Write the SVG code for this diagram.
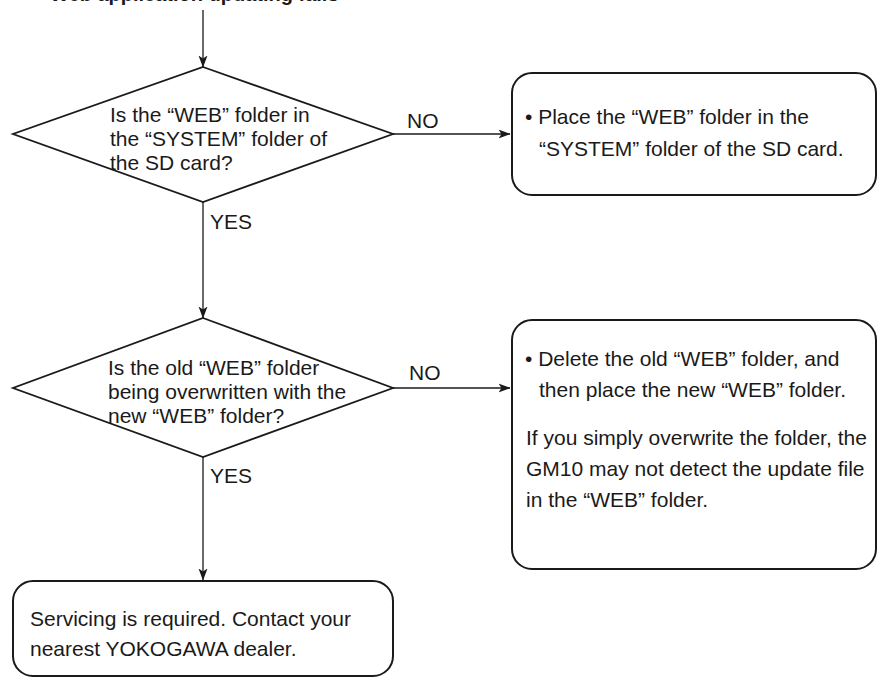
<svg xmlns="http://www.w3.org/2000/svg" width="878" height="677" viewBox="0 0 878 677">
<defs>
<style>
text{font-family:"Liberation Sans",Arial,sans-serif;font-size:21px;fill:#1a1a1a}
.title{font-weight:bold;font-size:20px}
.shape{fill:#fff;stroke:#1a1a1a;stroke-width:1.8}
.box{fill:#fff;stroke:#1a1a1a;stroke-width:2}
.conn{fill:none;stroke:#1a1a1a;stroke-width:1.3}
</style>
<marker id="arr" viewBox="0 0 12 10" refX="11.5" refY="5" markerWidth="12" markerHeight="10" markerUnits="userSpaceOnUse" orient="auto">
<path d="M0,0.5 L12,5 L0,9.5 L3,5 Z" fill="#1a1a1a"/>
</marker>
</defs>
<rect width="878" height="677" fill="#fff"/>
<text class="title" x="50" y="0.5">Web application updating fails</text>
<g id="connectors">
<line class="conn" x1="203" y1="10" x2="203" y2="67" marker-end="url(#arr)"/>
<line class="conn" x1="393" y1="134" x2="510" y2="134" marker-end="url(#arr)"/>
<line class="conn" x1="203" y1="202" x2="203" y2="318" marker-end="url(#arr)"/>
<line class="conn" x1="393" y1="388" x2="510" y2="388" marker-end="url(#arr)"/>
<line class="conn" x1="203" y1="457" x2="203" y2="580" marker-end="url(#arr)"/>
<text x="407" y="128">NO</text>
<text x="210" y="229">YES</text>
<text x="409" y="380">NO</text>
<text x="210" y="483">YES</text>
</g>
<g id="decision1">
<polygon class="shape" points="203,67 393,134 203,202 13,134"/>
<text x="110" y="122">Is the “WEB” folder in</text>
<text x="110" y="146">the “SYSTEM” folder of</text>
<text x="110" y="170">the SD card?</text>
</g>
<g id="action1">
<rect class="box" x="512" y="73" width="364" height="122" rx="20"/>
<text x="525" y="124">• Place the “WEB” folder in the</text>
<text x="539" y="156">“SYSTEM” folder of the SD card.</text>
</g>
<g id="decision2">
<polygon class="shape" points="203,318 393,388 203,457 13,388"/>
<text x="108" y="375">Is the old “WEB” folder</text>
<text x="108" y="399">being overwritten with the</text>
<text x="108" y="423">new “WEB” folder?</text>
</g>
<g id="action2">
<rect class="box" x="512" y="320" width="364" height="249" rx="20"/>
<text x="525" y="366">• Delete the old “WEB” folder, and</text>
<text x="539" y="397">then place the new “WEB” folder.</text>
<text x="526" y="445">If you simply overwrite the folder, the</text>
<text x="526" y="476">GM10 may not detect the update file</text>
<text x="526" y="507">in the “WEB” folder.</text>
</g>
<g id="service">
<rect class="box" x="13" y="581" width="380" height="95" rx="20"/>
<text x="30" y="626">Servicing is required. Contact your</text>
<text x="30" y="656">nearest YOKOGAWA dealer.</text>
</g>
</svg>
